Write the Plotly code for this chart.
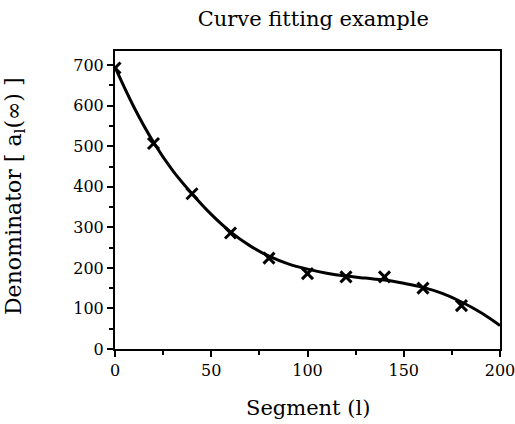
import plotly.graph_objects as go

# Sample points (markers)
seg_pts = [0, 20, 40, 60, 80, 100, 120, 140, 160, 180]
den_pts = [693, 507, 383, 286, 224, 186, 178, 178, 150, 107]

# Fitted curve
seg_fit = [0, 10, 20, 30, 40, 50, 60, 70, 80, 90, 100, 110, 120, 130, 140, 150, 160, 170, 180, 190, 200]
den_fit = [695, 595, 510, 440, 383, 332, 289, 255, 229, 210, 197, 187, 180, 175, 170, 162, 152, 137, 116, 90, 58]

x_ticks = [0, 50, 100, 150, 200]
y_ticks = [0, 100, 200, 300, 400, 500, 600, 700]

FONT = "DejaVu Serif"

fig = go.Figure()
fig.add_trace(go.Scatter(x=seg_fit, y=den_fit, mode="lines", line=dict(color="black", width=3, shape="spline"),
                         showlegend=False, hoverinfo="skip"))
fig.add_trace(go.Scatter(x=seg_pts, y=den_pts, mode="markers",
                         marker=dict(symbol="x-thin", size=11, line=dict(color="black", width=3)),
                         showlegend=False))

axis_common = dict(showgrid=False, zeroline=False, showline=True, linecolor="black", linewidth=2,
                   mirror=True, ticks="outside", tickcolor="black", tickwidth=2, ticklen=6,
                   automargin=False, ticklabeloverflow="allow",
                   tickfont=dict(family=FONT, size=16, color="black"))

fig.update_xaxes(range=[0, 200], tickvals=x_ticks, ticktext=[str(v) for v in x_ticks],
                 minor=dict(dtick=25, ticks="outside", ticklen=4, tickwidth=2, tickcolor="black"),
                 **axis_common)
fig.update_yaxes(range=[0, 735], tickvals=y_ticks, ticktext=[str(v) for v in y_ticks],
                 minor=dict(dtick=50, ticks="outside", ticklen=4, tickwidth=2, tickcolor="black"),
                 **axis_common)

fig.add_annotation(text="Segment (l)", xref="paper", yref="paper", x=0.5, y=-0.198,
                   xanchor="center", yanchor="middle", showarrow=False,
                   font=dict(family=FONT, size=21, color="black"))
fig.add_annotation(text="Denominator [ a<sub>l</sub>(\u221e) ]", xref="paper", yref="paper", x=-0.26, y=0.513,
                   xanchor="center", yanchor="middle", textangle=-90, showarrow=False,
                   font=dict(family=FONT, size=22, color="black"))

fig.update_layout(
    width=515, height=424,
    margin=dict(l=115, r=15, t=51, b=75),
    paper_bgcolor="white", plot_bgcolor="white",
    title=dict(text="Curve fitting example", x=0.515, xref="paper", xanchor="center", y=0.955, yanchor="middle",
               font=dict(family=FONT, size=21, color="black")),
)

fig.write_html("out.html", config={"displayModeBar": False},
               post_script="document.body.style.margin='0';document.body.style.overflow='hidden';")
